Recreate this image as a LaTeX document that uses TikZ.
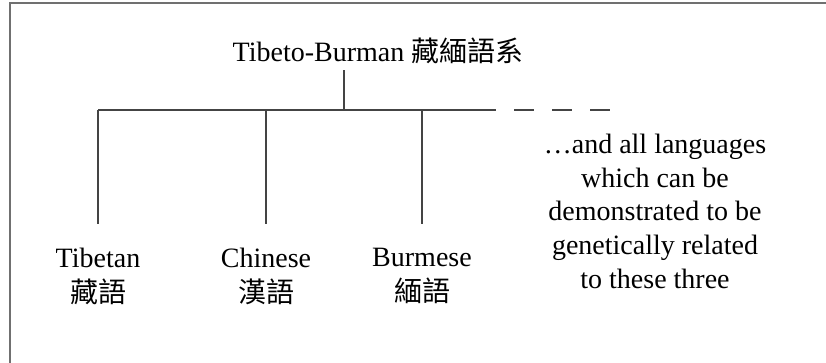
\documentclass[tikz,border=0pt]{standalone}
\usepackage{fontspec}
\setmainfont{Liberation Serif}
\newfontfamily\cjk{Noto Sans CJK TC}
\usepackage{xcolor}
\usetikzlibrary{positioning}

\definecolor{linegray}{HTML}{444444}
\definecolor{framegray}{HTML}{707070}

\begin{document}
\begin{tikzpicture}[
        x=1pt,
        y=-1pt,
        label text/.style={
            font=\fontsize{28}{35}\selectfont,
            align=center,
            inner sep=0pt
        },
        leaf/.style={
            label text,
            anchor=north,
            inner ysep=24pt
        },
        line/.style={
            draw=linegray,
            line width=1.8pt
        },
        trail/.style={
            line,
            dash pattern=on 20pt off 18pt,
            dash phase=20pt
        },
        ]

        \useasboundingbox (0,0) rectangle (826,363);
        \draw [framegray,line width=2pt] (10,363) -- (10,3) -- (826,3);

        \node [label text,anchor=base,inner ysep=6pt] (root) at (378,62) {Tibeto-Burman {\cjk 藏緬語系}};
        \coordinate (junction) at (344,110);
        \coordinate (bar-end) at (496,110);
        \coordinate (trail-end) at (610,110);

        \node [leaf] (tibetan) at (98,224) {Tibetan\\{\cjk 藏語}};
        \node [leaf] (chinese) at (266,224) {Chinese\\{\cjk 漢語}};
        \node [leaf] (burmese) at (422,224) {Burmese\\{\cjk 緬語}};
        \node [label text,font=\fontsize{28}{33.6}\selectfont,anchor=north] (note) at (655,134) {\dots and all languages\\which can be\\demonstrated to be\\genetically related\\to these three};

        \path [line] (root.south -| junction) -- (junction);
        \path [line] (tibetan.north |- junction) -- (bar-end);
        \path [trail] (bar-end) -- (trail-end);
        \path [line] (tibetan.north |- junction) -- (tibetan.north);
        \path [line] (chinese.north |- junction) -- (chinese.north);
        \path [line] (burmese.north |- junction) -- (burmese.north);
    \end{tikzpicture}
\end{document}
